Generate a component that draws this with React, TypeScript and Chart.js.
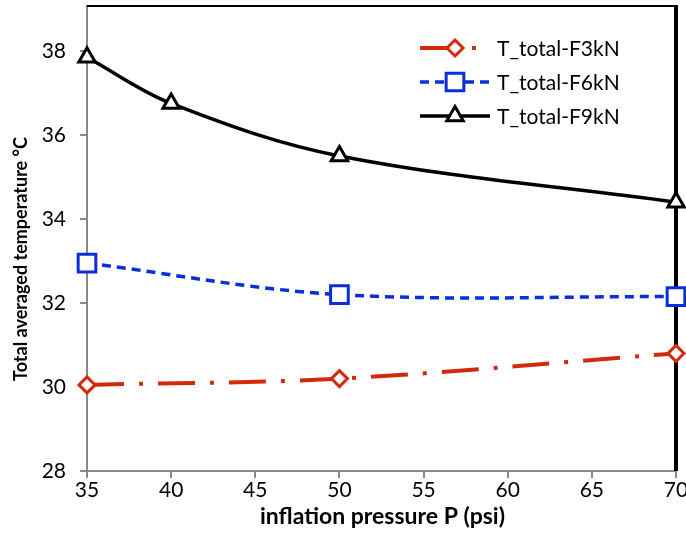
import React, { useEffect, useRef } from "react";
import { Chart, registerables } from "chart.js";

Chart.register(...registerables);

const pressures = [35, 40, 50, 70];
const pressures3 = [35, 50, 70];
const f3Values = [30.05, 30.2, 30.8];
const f6Values = [32.95, 32.2, 32.15];
const f9Values = [37.85, 36.75, 35.5, 34.4];
const yTicks = [28, 30, 32, 34, 36, 38];
const seriesNames = ["T_total-F3kN", "T_total-F6kN", "T_total-F9kN"];
const xTitle = "inflation pressure P (psi)";
const yTitle = "Total averaged temperature °C";

const FONT = "Lato, 'Open Sans', sans-serif";

const framePlugin = {
  id: "frame",
  beforeDatasetsDraw(chart: any) {
    const { ctx, chartArea: a } = chart;
    ctx.save();
    ctx.strokeStyle = "#000";
    ctx.lineWidth = 2;
    ctx.beginPath();
    ctx.moveTo(a.left, a.top);
    ctx.lineTo(a.right, a.top);
    ctx.stroke();
    ctx.lineWidth = 4;
    ctx.beginPath();
    ctx.moveTo(a.right, a.top - 1);
    ctx.lineTo(a.right, a.bottom);
    ctx.stroke();
    ctx.restore();
  },
};

const titlesPlugin = {
  id: "titles",
  afterDraw(chart: any) {
    const { ctx, chartArea: a } = chart;
    ctx.save();
    ctx.fillStyle = "#000";
    ctx.textAlign = "center";
    ctx.textBaseline = "middle";
    ctx.font = `bold 23px ${FONT}`;
    ctx.fillText(xTitle, (a.left + a.right) / 2 + 1, 517);
    ctx.restore();

    ctx.save();
    ctx.fillStyle = "#000";
    ctx.font = `bold 18px ${FONT}`;
    ctx.textAlign = "left";
    ctx.textBaseline = "middle";
    const w = ctx.measureText(yTitle).width;
    ctx.setTransform(0, -1, 1, 0, 21, 259 + w / 2);
    ctx.fillText(yTitle, 0, 0);
    ctx.restore();
  },
};

const legendPlugin = {
  id: "customLegend",
  afterDraw(chart: any) {
    const { ctx } = chart;
    const rows = [48, 82, 116];
    ctx.save();
    chart.data.datasets.forEach((ds: any, i: number) => {
      const y = rows[i];
      ctx.strokeStyle = ds.borderColor;
      ctx.lineWidth = ds.borderWidth;
      ctx.setLineDash(ds.borderDash || []);
      ctx.lineDashOffset = 0;
      ctx.beginPath();
      ctx.moveTo(420, y);
      ctx.lineTo(490, y);
      ctx.stroke();
      ctx.setLineDash([]);
      const r = ds.pointRadius;
      ctx.fillStyle = "#fff";
      ctx.lineWidth = ds.pointBorderWidth;
      ctx.strokeStyle = ds.borderColor;
      ctx.beginPath();
      const cx = 455;
      if (ds.pointStyle === "rectRot") {
        ctx.moveTo(cx, y - r);
        ctx.lineTo(cx + r, y);
        ctx.lineTo(cx, y + r);
        ctx.lineTo(cx - r, y);
        ctx.closePath();
      } else if (ds.pointStyle === "rect") {
        const s = r * Math.SQRT1_2;
        ctx.rect(cx - s, y - s, 2 * s, 2 * s);
      } else {
        const w = (r * Math.sqrt(3)) / 2;
        ctx.moveTo(cx, y - r);
        ctx.lineTo(cx + w, y + r / 2);
        ctx.lineTo(cx - w, y + r / 2);
        ctx.closePath();
      }
      ctx.fill();
      ctx.stroke();
      ctx.fillStyle = "#000";
      ctx.font = `21px ${FONT}`;
      ctx.textBaseline = "middle";
      ctx.textAlign = "left";
      ctx.fillText(ds.label, 497, y + 1);
    });
    ctx.restore();
  },
};

export default function App() {
  const ref = useRef<HTMLCanvasElement>(null);
  useEffect(() => {
    document.body.style.margin = "0";
    const chart = new Chart(ref.current!, {
      type: "line",
      data: {
        datasets: [
          {
            label: seriesNames[0],
            data: pressures3.map((x, i) => ({ x, y: f3Values[i] })),
            borderColor: "#d42a0c",
            borderWidth: 4,
            borderDash: [37, 15, 4, 15],
            pointStyle: "rectRot",
            pointRadius: 8,
            pointBorderWidth: 3,
            pointBackgroundColor: "#fff",
            tension: 0.35,
            clip: false,
          },
          {
            label: seriesNames[1],
            data: pressures3.map((x, i) => ({ x, y: f6Values[i] })),
            borderColor: "#0a2fd8",
            borderWidth: 3.5,
            borderDash: [9, 6],
            pointStyle: "rect",
            pointRadius: 12.5,
            pointBorderWidth: 3,
            pointBackgroundColor: "#fff",
            tension: 0.35,
            clip: false,
          },
          {
            label: seriesNames[2],
            data: pressures.map((x, i) => ({ x, y: f9Values[i] })),
            borderColor: "#000",
            borderWidth: 3.5,
            pointStyle: "triangle",
            pointRadius: 9.5,
            pointBorderWidth: 3,
            pointBackgroundColor: "#fff",
            tension: 0.35,
            clip: false,
          },
        ] as any,
      },
      options: {
        animation: false,
        responsive: false,
        layout: { autoPadding: false, padding: { top: 6, right: 10, left: 0, bottom: 0 } } as any,
        plugins: { legend: { display: false }, tooltip: { enabled: false } },
        scales: {
          x: {
            type: "linear",
            min: 35,
            max: 70,
            ticks: { stepSize: 5, color: "#000", font: { family: FONT, size: 21 }, padding: 0 },
            grid: { drawOnChartArea: false, drawTicks: true, tickLength: 7, color: "#888", lineWidth: 2 },
            border: { color: "#888", width: 2 },
            title: { display: false },
            afterFit(scale: any) {
              scale.height = 73;
              scale.paddingLeft = 0;
              scale.paddingRight = 0;
            },
          } as any,
          y: {
            type: "linear",
            min: 28,
            max: 39.07,
            afterBuildTicks(scale: any) {
              scale.ticks = yTicks.map((v) => ({ value: v }));
            },
            ticks: { color: "#000", font: { family: FONT, size: 21 }, padding: 14 },
            grid: { drawOnChartArea: false, drawTicks: true, tickLength: 7, color: "#888", lineWidth: 2 },
            border: { color: "#888", width: 2 },
            title: { display: false },
            afterFit(scale: any) {
              scale.width = 87;
              scale.paddingTop = 0;
              scale.paddingBottom = 0;
            },
          } as any,
        },
      },
      plugins: [framePlugin, legendPlugin, titlesPlugin],
    });
    return () => chart.destroy();
  }, []);
  return (
    <div style={{ position: "absolute", left: 0, top: 0, width: 686, height: 544, background: "#fff" }}>
      <canvas ref={ref} width={686} height={544} />
    </div>
  );
}
